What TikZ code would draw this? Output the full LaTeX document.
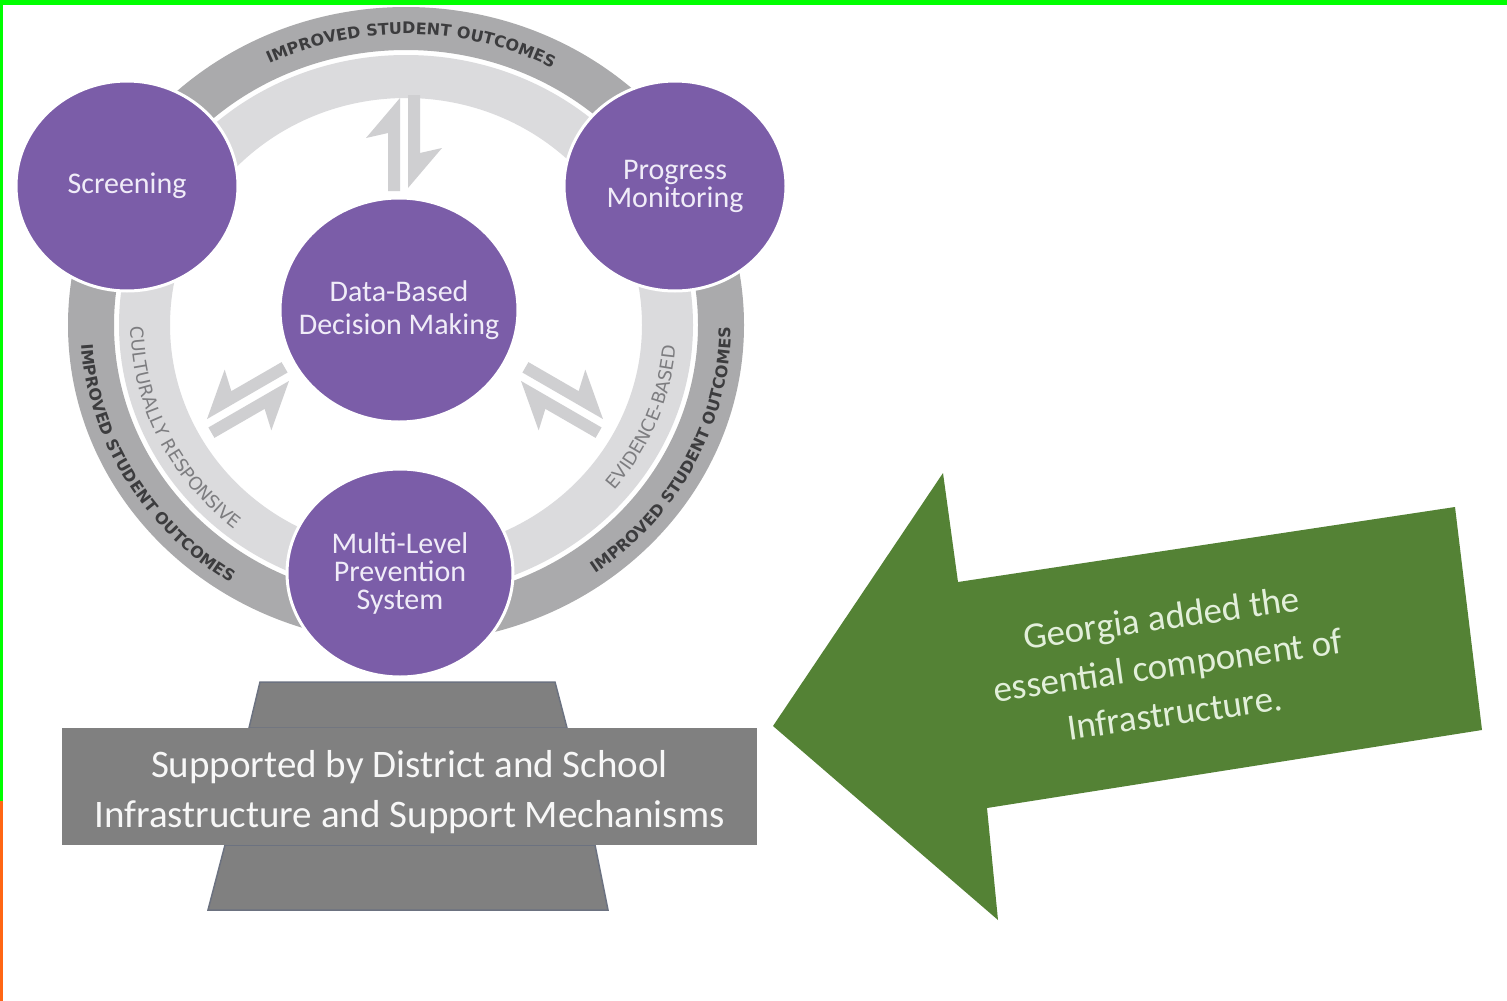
\documentclass[tikz,border=0pt]{standalone}
\usepackage{fontspec}
\setmainfont{Carlito}
\newfontfamily\ringfont{DejaVu Sans}
\usetikzlibrary{shapes.geometric,decorations.text,positioning}
\definecolor{rtipurple}{RGB}{123,93,168}
\definecolor{circtext}{RGB}{240,236,248}
\definecolor{darkring}{RGB}{170,170,172}
\definecolor{lightring}{RGB}{219,219,221}
\definecolor{ringdark}{RGB}{60,60,62}
\definecolor{ringlight}{RGB}{125,125,128}
\definecolor{harp}{RGB}{207,207,209}
\definecolor{basegray}{RGB}{128,128,128}
\definecolor{baseedge}{RGB}{108,114,128}
\definecolor{gagreen}{RGB}{84,130,53}
\definecolor{gatext}{RGB}{226,239,218}
\definecolor{framegreen}{RGB}{0,255,0}
\definecolor{frameorange}{RGB}{255,102,20}
\begin{document}
\begin{tikzpicture}[x=1pt, y=-1pt,
  bubble/.style={ellipse, fill=rtipurple, draw=white, line width=3pt, inner sep=-20pt,
    text=circtext, align=center, font=\fontsize{30}{28}\selectfont},
  ringlabel/.style={decorate, decoration={text along path, text align=center, text={#1}}},
  harpoon/.pic={
    \fill[harp] (-4,48) -- (-4,-45) -- (-38,-5) -- (-16,-10) -- (-16,48) -- cycle;
    \fill[harp] (4,-48) -- (4,45) -- (38,5) -- (16,10) -- (16,-48) -- cycle;}]
  \useasboundingbox (0,0) rectangle (1507,1001);
  \fill[white] (0,0) rectangle (1507,1001);
  \fill[framegreen] (0,0) rectangle (1507,5);
  \fill[framegreen] (0,0) rectangle (2.5,801);
  \fill[frameorange] (0,801) rectangle (2.5,1001);

  \coordinate (ring) at (406,325);
  \fill[darkring, even odd rule] (ring) ellipse [x radius=338, y radius=318]
    (ring) ellipse [x radius=292, y radius=275];
  \fill[lightring, even odd rule] (ring) ellipse [x radius=287, y radius=270]
    (ring) ellipse [x radius=236, y radius=227];

  \path[ringlabel={|\ringfont\bfseries\fontsize{16}{16}\selectfont\color{ringdark}|IMPROVED STUDENT OUTCOMES}]
    ([shift={(225:311 and 291)}]ring) arc[start angle=225, end angle=317, x radius=311, y radius=291];
  \path[ringlabel={|\ringfont\bfseries\fontsize{16}{16}\selectfont\color{ringdark}|IMPROVED STUDENT OUTCOMES}]
    ([shift={(195:325 and 306)}]ring) arc[start angle=195, end angle=105, x radius=325, y radius=306];
  \path[ringlabel={|\ringfont\bfseries\fontsize{16}{16}\selectfont\color{ringdark}|IMPROVED STUDENT OUTCOMES}]
    ([shift={(72:325 and 306)}]ring) arc[start angle=72, end angle=-18, x radius=325, y radius=306];
  \path[ringlabel={|\ringfont\fontsize{18}{18}\selectfont\color{ringlight}|CULTURALLY RESPONSIVE}]
    ([shift={(205:275 and 261)}]ring) arc[start angle=205, end angle=104, x radius=275, y radius=261];
  \path[ringlabel={|\ringfont\fontsize{18}{18}\selectfont\color{ringlight}|EVIDENCE-BASED}]
    ([shift={(55:271 and 259)}]ring) arc[start angle=55, end angle=-11, x radius=271, y radius=259];

  \pic at (404,143) {harpoon};
  \pic[rotate=-120] at (562,400) {harpoon};
  \pic[xscale=-1, rotate=-120] at (248,400) {harpoon};

  \node[bubble, minimum width=222, minimum height=210] (scr) at (127,186) {Screening};
  \node[bubble, minimum width=222, minimum height=210] (pm) at (675,186) {Progress\\Monitoring};
  \node[bubble, minimum width=238, minimum height=224, font=\fontsize{30}{33}\selectfont] (dbdm) at (399,310) {Data-Based\\Decision Making};
  \node[bubble, minimum width=226, minimum height=208] (mlps) at (400,573) {Multi-Level\\Prevention\\System};

  \filldraw[basegray, draw=baseedge, line width=1.5pt] (260,682) -- (555,682) -- (567,728) -- (249,728) -- cycle;
  \filldraw[basegray, draw=baseedge, line width=1.5pt] (225,845) -- (595,845) -- (608,910) -- (208,910) -- cycle;
  \node[fill=basegray, minimum width=695, minimum height=117, inner sep=0pt] (base) at (409.5,786.5) {};
  \node[text=white!94!gray, align=center, font=\fontsize{39}{50}\selectfont] (basetxt) at ([yshift=-6pt]base.center)
    {Supported by District and School\\Infrastructure and Support Mechanisms};

  \fill[gagreen] (773,726) -- (943,473) -- (958,582) -- (1455,507) -- (1482,730) -- (987,808) -- (998,920) -- cycle;
  \node[rotate=8, text=gatext, align=center, font=\fontsize{37}{48}\selectfont] (gtxt) at (1168,665)
    {Georgia added the\\essential component of\\Infrastructure.};
\end{tikzpicture}
\end{document}
